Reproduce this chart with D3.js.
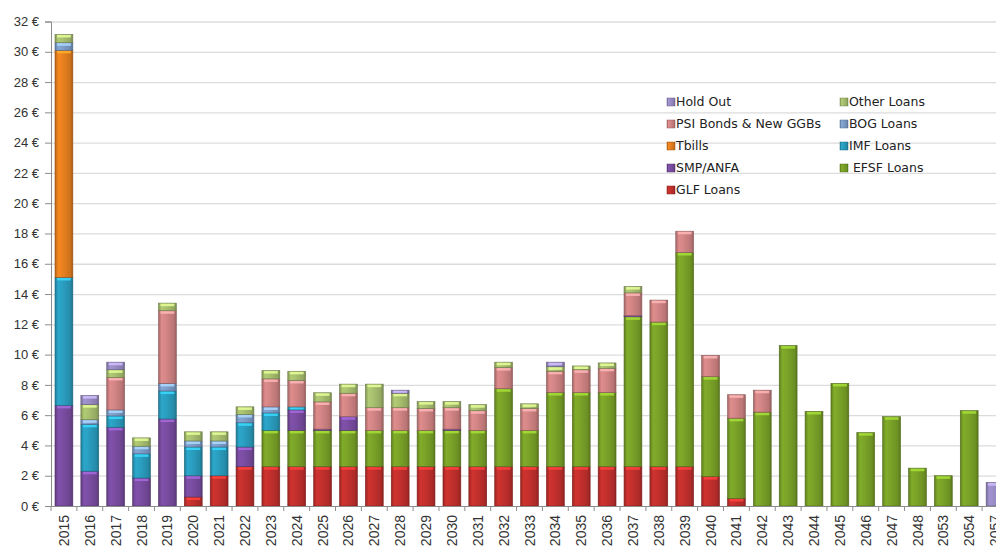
<!DOCTYPE html>
<html>
<head>
<meta charset="utf-8">
<script src="https://cdn.jsdelivr.net/npm/d3@7"></script>
<style>
  html, body { margin: 0; padding: 0; background: #fff; overflow: hidden; }
  .axis text { font-family: "Liberation Sans", Arial, sans-serif; fill: #333; }
  .legend text { font-family: "DejaVu Sans", sans-serif; fill: #222; }
</style>
</head>
<body>
<div class="container"></div>
<script>
const w = 996;
const h = 546;

const years = ["2015","2016","2017","2018","2019","2020","2021","2022","2023","2024",
  "2025","2026","2027","2028","2029","2030","2031","2032","2033","2034","2035","2036",
  "2037","2038","2039","2040","2041","2042","2043","2044","2045","2046","2047","2048",
  "2053","2054","2057"];

// values in € bn (stack order bottom -> top)
const glfLoans  = [0,0,0,0,0,0.6,2.0,2.6,2.6,2.6,2.6,2.6,2.6,2.6,2.6,2.6,2.6,2.6,2.6,2.6,2.6,2.6,2.6,2.6,2.6,1.95,0.5,0,0,0,0,0,0,0,0,0,0];
const efsfLoans = [0,0,0,0,0,0,0,0,2.4,2.4,2.4,2.4,2.4,2.4,2.4,2.4,2.4,5.15,2.4,4.9,4.9,4.9,9.9,9.55,14.15,6.6,5.3,6.2,10.6,6.25,8.1,4.85,5.9,2.5,2.0,6.3,0];
const smpAnfa   = [6.65,2.3,5.2,1.85,5.75,1.4,0,1.3,0,1.35,0.08,0.9,0,0,0,0.08,0,0,0,0,0,0,0.08,0,0,0,0,0,0,0,0,0,0,0,0,0,0];
const imfLoans  = [8.45,3.1,0.75,1.6,1.85,1.9,1.9,1.6,1.15,0.2,0,0,0,0,0,0,0,0,0,0,0,0,0,0,0,0,0,0,0,0,0,0,0,0,0,0,0];
const tbills    = [15.0,0,0,0,0,0,0,0,0,0,0,0,0,0,0,0,0,0,0,0,0,0,0,0,0,0,0,0,0,0,0,0,0,0,0,0,0];
const bogLoans  = [0.5,0.3,0.4,0.5,0.5,0.4,0.4,0.55,0.4,0,0,0,0,0,0,0,0,0,0,0,0,0,0,0,0,0,0,0,0,0,0,0,0,0,0,0,0];
const psiBonds  = [0,0,2.15,0,4.8,0,0,0,1.85,1.75,1.8,1.55,1.5,1.5,1.45,1.42,1.3,1.4,1.45,1.4,1.5,1.6,1.5,1.45,1.4,1.4,1.55,1.45,0,0,0,0,0,0,0,0,0];
const otherLoans= [0.55,1.0,0.5,0.55,0.5,0.6,0.6,0.5,0.55,0.6,0.6,0.6,1.55,0.95,0.45,0.4,0.4,0.35,0.3,0.3,0.25,0.35,0.42,0,0,0,0,0,0,0,0,0,0,0,0,0,0];
const holdOut   = [0,0.6,0.5,0,0,0,0,0,0,0,0,0,0,0.2,0,0,0,0,0,0.3,0,0,0,0,0,0,0,0,0,0,0,0,0,0,0,0,1.55];

const seriesNames = ["GLF Loans","EFSF Loans","SMP/ANFA","IMF Loans","Tbills","BOG Loans","PSI Bonds & New GGBs","Other Loans","Hold Out"];
const seriesValues = [glfLoans, efsfLoans, smpAnfa, imfLoans, tbills, bogLoans, psiBonds, otherLoans, holdOut];
const seriesColors = ["#c4302d","#7aa328","#7a4da2","#2a9ec0","#e8801f","#7e9ecb","#d38585","#a8c06f","#9a8cc6"];
const yTicks = d3.range(0, 33, 2);

// legend layout: two columns, listed like the original (top series first)
const legendItems = [
  {name: "Hold Out", col: 0, row: 0},
  {name: "Other Loans", col: 1, row: 0},
  {name: "PSI Bonds & New GGBs", col: 0, row: 1},
  {name: "BOG Loans", col: 1, row: 1},
  {name: "Tbills", col: 0, row: 2},
  {name: "IMF Loans", col: 1, row: 2},
  {name: "SMP/ANFA", col: 0, row: 3},
  {name: " EFSF Loans", col: 1, row: 3},
  {name: "GLF Loans", col: 0, row: 4}
];

const margin = {top: 21.5, left: 51, bottom: 40, right: -12};
const plotBottom = 506;

const svg = d3.select('.container').append('svg')
    .attr('width', w)
    .attr('height', h);

const defs = svg.append('defs');

const table = years.map((yr, i) => {
  const row = {year: yr};
  seriesNames.forEach((s, k) => row[s] = seriesValues[k][i]);
  return row;
});

const stack = d3.stack().keys(seriesNames);
const stacked = stack(table);

const x = d3.scaleBand()
    .domain(years)
    .range([margin.left, 1008])
    .paddingInner(0.31)
    .paddingOuter(0.155);

const y = d3.scaleLinear()
    .domain([0, 32])
    .range([plotBottom, margin.top]);

const color = d3.scaleOrdinal(seriesNames, seriesColors);

// bevel-ish gradients for each series
seriesNames.forEach((s, k) => {
  const c = d3.color(seriesColors[k]);
  const g = defs.append('linearGradient')
      .attr('id', 'grad' + k)
      .attr('x1', 0).attr('x2', 1).attr('y1', 0).attr('y2', 0);
  g.append('stop').attr('offset', '0%').attr('stop-color', c.darker(0.7));
  g.append('stop').attr('offset', '18%').attr('stop-color', c.brighter(0.15));
  g.append('stop').attr('offset', '45%').attr('stop-color', c);
  g.append('stop').attr('offset', '85%').attr('stop-color', c.darker(0.35));
  g.append('stop').attr('offset', '100%').attr('stop-color', c.darker(0.9));
});

// grid
svg.append('g')
    .selectAll('line')
    .data(yTicks.filter(d => d > 0))
    .join('line')
      .attr('x1', margin.left)
      .attr('x2', w)
      .attr('y1', d => y(d) + 0.5)
      .attr('y2', d => y(d) + 0.5)
      .attr('stroke', '#dcdcdc')
      .attr('stroke-width', 1.3);

// bars
const layer = svg.append('g')
    .selectAll('g')
    .data(stacked)
    .join('g')
      .attr('data-series', d => d.key);

const segs = layer.selectAll('g')
    .data((d, k) => d.map(p => ({p, k, year: p.data.year})).filter(e => e.p[1] - e.p[0] > 0))
    .join('g');

segs.append('rect')
    .attr('x', d => x(d.year))
    .attr('width', x.bandwidth())
    .attr('y', d => y(d.p[1]))
    .attr('height', d => y(d.p[0]) - y(d.p[1]))
    .attr('fill', d => `url(#grad${d.k})`)
    .attr('stroke', d => d3.color(seriesColors[d.k]).darker(1.2))
    .attr('stroke-width', 0.6);

// light cap at the top of every segment
segs.append('rect')
    .attr('x', d => x(d.year) + 2)
    .attr('width', x.bandwidth() - 4)
    .attr('y', d => y(d.p[1]) + 0.6)
    .attr('height', d => Math.min(2.5, Math.max(0, y(d.p[0]) - y(d.p[1]) - 1)))
    .attr('fill', d => d3.color(seriesColors[d.k]).brighter(0.9))
    .attr('opacity', 0.85);

// y axis
const yAxis = d3.axisLeft(y)
    .tickValues(yTicks)
    .tickFormat(d => d + ' €')
    .tickSize(6)
    .tickPadding(6);

const yg = svg.append('g')
    .classed('axis', true)
    .attr('transform', `translate(${margin.left}, 0)`)
    .call(yAxis);
yg.select('.domain').attr('stroke', '#8c8c8c');
yg.selectAll('.tick line').attr('stroke', '#8c8c8c');
yg.selectAll('text').style('font-size', '13px');

// x axis
const xAxis = d3.axisBottom(x).tickSize(0);
const xg = svg.append('g')
    .classed('axis', true)
    .attr('transform', `translate(0, ${plotBottom})`)
    .call(xAxis);
xg.select('.domain').attr('stroke', '#8c8c8c').attr('d', `M${margin.left},0.5H${w}`);
xg.selectAll('text')
    .attr('transform', 'rotate(-90)')
    .attr('x', -9)
    .attr('y', 0)
    .attr('dy', '0.36em')
    .style('text-anchor', 'end')
    .style('font-size', '14px');

// category boundary ticks
xg.append('g')
    .selectAll('line')
    .data(d3.range(years.length + 1))
    .join('line')
      .attr('x1', i => margin.left + i * x.step())
      .attr('x2', i => margin.left + i * x.step())
      .attr('y1', 0)
      .attr('y2', 5)
      .attr('stroke', '#8c8c8c');

// legend
const legend = svg.append('g')
    .classed('legend', true)
    .attr('transform', 'translate(667, 102)');

const li = legend.selectAll('g')
    .data(legendItems)
    .join('g')
      .attr('transform', d => `translate(${d.col * 173}, ${d.row * 22})`);

li.append('rect')
    .attr('x', 0)
    .attr('y', -4)
    .attr('width', 8)
    .attr('height', 8)
    .attr('fill', d => `url(#grad${seriesNames.indexOf(d.name.trim())})`)
    .attr('stroke', d => d3.color(color(d.name.trim())).darker(1))
    .attr('stroke-width', 0.5);

li.append('text')
    .attr('x', 9)
    .attr('y', 0)
    .attr('dy', '0.35em')
    .style('font-size', '12.5px')
    .style('white-space', 'pre')
    .text(d => d.name);
</script>
</body>
</html>
